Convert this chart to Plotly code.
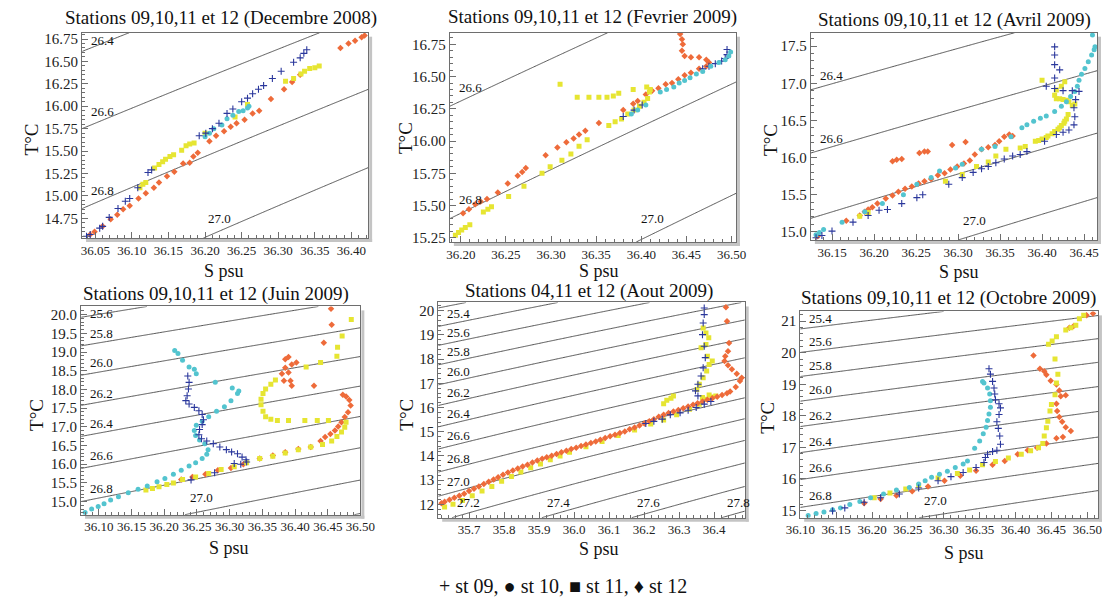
import numpy as np
import plotly.graph_objects as go

W, H = 1115, 602
FONT = "Liberation Serif, Times New Roman, Tinos, DejaVu Serif, serif"

# ---------------- data (S psu, T degC) ----------------
# Panel 1 : Decembre 2008
dec08_st09_S = [36.038,36.043,36.056,36.060,36.069,36.081,36.091,36.097,36.108,36.122,36.127,36.192,36.201,36.210,36.219,36.230,36.238,36.250,36.258,36.265,36.273,36.280,36.292,36.304,36.321,36.330,36.335,36.339]
dec08_st09_T = [14.55,14.57,14.64,14.66,14.76,14.86,14.94,14.97,15.09,15.26,15.29,15.67,15.70,15.75,15.81,15.92,15.97,16.05,16.09,16.14,16.19,16.23,16.31,16.39,16.49,16.54,16.59,16.63]
dec08_st10_S = [36.200,36.206,36.212,36.223,36.230,36.238,36.246,36.252,36.258,36.260]
dec08_st10_T = [15.66,15.70,15.75,15.79,15.86,15.90,15.94,15.95,15.98,16.00]
dec08_st11_S = [36.111,36.115,36.119,36.131,36.137,36.142,36.146,36.152,36.157,36.168,36.174,36.179,36.185,36.200,36.241,36.258,36.310,36.321,36.331,36.336,36.343,36.350,36.356]
dec08_st11_T = [15.09,15.13,15.15,15.31,15.35,15.38,15.41,15.44,15.46,15.51,15.56,15.58,15.59,15.70,15.88,16.02,16.28,16.31,16.36,16.39,16.42,16.43,16.45]
dec08_st12_S = [36.043,36.049,36.060,36.071,36.080,36.088,36.097,36.109,36.119,36.130,36.137,36.148,36.158,36.170,36.179,36.184,36.190,36.206,36.215,36.226,36.235,36.243,36.254,36.265,36.274,36.290,36.308,36.319,36.330,36.385,36.396,36.405,36.414,36.418]
dec08_st12_T = [14.57,14.60,14.66,14.74,14.79,14.85,14.89,14.97,15.03,15.09,15.15,15.22,15.27,15.36,15.37,15.44,15.48,15.61,15.67,15.72,15.77,15.81,15.85,15.92,15.95,16.08,16.19,16.27,16.35,16.65,16.70,16.73,16.77,16.79]

# Panel 2 : Fevrier 2009
feb09_st09_S = [36.380,36.392,36.401,36.468,36.475,36.482,36.489,36.493,36.495,36.495]
feb09_st09_T = [16.19,16.24,16.28,16.56,16.58,16.60,16.62,16.64,16.67,16.71]
feb09_st10_S = [36.389,36.396,36.405,36.421,36.428,36.436,36.442,36.448,36.454,36.461,36.468,36.477,36.486,36.493,36.497,36.499]
feb09_st10_T = [16.21,16.24,16.28,16.38,16.40,16.42,16.45,16.47,16.49,16.52,16.54,16.58,16.61,16.63,16.66,16.69]
feb09_st11_S = [36.194,36.1975,36.201,36.205,36.210,36.225,36.230,36.234,36.253,36.270,36.290,36.299,36.312,36.322,36.331,36.340,36.364,36.371,36.378,36.385,36.392,36.398,36.403,36.407,36.409,36.406,36.310,36.329,36.342,36.353,36.362,36.369,36.375,36.391,36.410]
feb09_st11_T = [15.27,15.29,15.31,15.33,15.35,15.45,15.47,15.49,15.57,15.65,15.75,15.80,15.85,15.90,15.96,16.01,16.12,16.15,16.17,16.21,16.24,16.27,16.30,16.33,16.38,16.42,16.44,16.34,16.34,16.34,16.34,16.35,16.37,16.40,16.40]
feb09_st12_S = [36.2025,36.209,36.216,36.222,36.229,36.241,36.252,36.263,36.268,36.272,36.294,36.307,36.317,36.325,36.331,36.338,36.353,36.380,36.391,36.396,36.405,36.412,36.419,36.427,36.434,36.441,36.448,36.455,36.464,36.472,36.475,36.472,36.464,36.455,36.448,36.445,36.446,36.445,36.443]
feb09_st12_T = [15.44,15.47,15.51,15.53,15.55,15.60,15.67,15.73,15.76,15.79,15.89,15.95,15.99,16.02,16.05,16.08,16.14,16.24,16.29,16.31,16.36,16.39,16.41,16.44,16.45,16.48,16.51,16.53,16.56,16.58,16.61,16.63,16.65,16.65,16.66,16.70,16.75,16.79,16.83]

# Panel 3 : Avril 2009
apr09_st09_S = [36.131,36.138,36.150,36.175,36.193,36.206,36.216,36.233,36.251,36.258,36.289,36.305,36.318,36.328,36.336,36.345,36.355,36.365,36.374,36.382,36.403,36.417,36.425,36.432,36.438,36.439,36.438,36.440,36.444,36.436,36.425,36.415,36.405,36.415,36.421,36.415,36.415,36.415]
apr09_st09_T = [14.92,14.95,15.01,15.13,15.22,15.29,15.30,15.38,15.46,15.50,15.64,15.73,15.80,15.85,15.88,15.93,15.98,16.02,16.04,16.08,16.22,16.31,16.34,16.37,16.44,16.55,16.67,16.78,16.89,16.90,16.90,16.93,16.96,17.07,17.18,17.25,17.38,17.49]
apr09_st10_S = [36.131,36.135,36.140,36.162,36.189,36.235,36.251,36.278,36.305,36.328,36.344,36.363,36.376,36.382,36.390,36.398,36.405,36.415,36.423,36.429,36.434,36.439,36.442,36.444,36.447,36.451,36.455,36.459,36.462,36.463,36.460,36.210,36.268,36.297]
apr09_st10_T = [14.96,14.99,15.03,15.13,15.27,15.50,15.64,15.82,15.91,16.11,16.15,16.28,16.40,16.44,16.49,16.53,16.56,16.62,16.69,16.75,16.82,16.89,16.96,17.04,17.12,17.20,17.29,17.38,17.45,17.49,17.65,15.38,15.73,15.86]
apr09_st11_S = [36.183,36.193,36.285,36.305,36.322,36.336,36.345,36.357,36.374,36.380,36.392,36.400,36.407,36.415,36.421,36.426,36.429,36.431,36.436,36.432,36.425,36.417,36.415,36.417,36.423,36.427,36.400,36.396,36.405,36.412,36.419,36.423,36.427,36.421,36.429,36.439]
apr09_st11_T = [15.21,15.26,15.68,15.77,15.88,15.94,16.02,16.11,16.13,16.15,16.22,16.25,16.29,16.35,16.40,16.46,16.52,16.58,16.70,16.75,16.78,16.79,16.84,16.91,16.96,17.02,17.04,16.23,16.27,16.32,16.38,16.43,16.49,16.79,16.77,16.72]
apr09_st12_S = [36.133,36.167,36.183,36.189,36.193,36.198,36.204,36.214,36.222,36.229,36.237,36.245,36.253,36.260,36.268,36.276,36.284,36.291,36.299,36.307,36.314,36.320,36.328,36.336,36.344,36.349,36.355,36.361,36.365,36.222,36.227,36.233,36.254,36.260,36.264,36.293,36.309]
apr09_st12_T = [14.94,15.15,15.22,15.27,15.30,15.33,15.38,15.45,15.49,15.54,15.58,15.61,15.65,15.68,15.71,15.76,15.79,15.84,15.88,15.92,15.96,16.04,16.11,16.14,16.17,16.22,16.28,16.31,16.29,15.95,15.97,15.98,16.06,16.08,16.08,16.17,16.21]

# Panel 4 : Juin 2009
jun09_st09_S = [36.236,36.238,36.237,36.235,36.233,36.238,36.246,36.253,36.258,36.260,36.258,36.254,36.253,36.257,36.265,36.275,36.285,36.295,36.303,36.312,36.319,36.325,36.326,36.317,36.307,36.277,36.241]
jun09_st09_T = [18.36,18.19,18.01,17.83,17.70,17.61,17.52,17.43,17.33,17.19,17.06,16.93,16.79,16.68,16.62,16.55,16.46,16.39,16.33,16.28,16.19,16.12,16.06,16.00,16.02,15.77,15.58]
jun09_st10_S = [36.079,36.089,36.099,36.108,36.118,36.130,36.145,36.160,36.174,36.189,36.201,36.214,36.226,36.238,36.248,36.258,36.265,36.267,36.262,36.254,36.248,36.246,36.249,36.258,36.268,36.280,36.292,36.302,36.312,36.314,36.304,36.216,36.221,36.228,36.238,36.246,36.249,36.278]
jun09_st10_T = [14.71,14.80,14.87,14.94,15.04,15.13,15.24,15.33,15.42,15.53,15.62,15.73,15.84,15.95,16.04,16.15,16.27,16.39,16.55,16.65,16.77,16.90,17.04,17.15,17.27,17.42,17.54,17.70,17.89,17.96,18.04,19.04,18.96,18.78,18.60,18.54,18.42,18.19]
jun09_st11_S = [36.172,36.182,36.192,36.204,36.214,36.228,36.248,36.268,36.287,36.307,36.326,36.346,36.366,36.385,36.405,36.424,36.442,36.456,36.464,36.471,36.476,36.478,36.451,36.434,36.415,36.390,36.373,36.363,36.355,36.351,36.348,36.348,36.351,36.355,36.363,36.370,36.417,36.439,36.464,36.465,36.472,36.486]
jun09_st11_T = [15.31,15.35,15.40,15.46,15.50,15.59,15.66,15.75,15.86,15.93,16.04,16.15,16.21,16.30,16.39,16.46,16.53,16.62,16.74,16.86,16.99,17.12,17.17,17.17,17.17,17.17,17.17,17.20,17.27,17.42,17.59,17.74,17.89,18.01,18.14,18.25,18.60,18.72,18.89,19.13,19.43,19.87]
jun09_st12_S = [36.226,36.243,36.263,36.282,36.302,36.321,36.346,36.366,36.385,36.405,36.424,36.439,36.446,36.454,36.461,36.466,36.471,36.476,36.481,36.485,36.483,36.478,36.473,36.429,36.390,36.380,36.383,36.393,36.395,36.385,36.395,36.402,36.385,36.390,36.444,36.456,36.455]
jun09_st12_T = [15.59,15.66,15.73,15.84,15.90,16.00,16.15,16.23,16.32,16.41,16.46,16.62,16.73,16.81,16.90,17.01,17.12,17.26,17.39,17.57,17.72,17.81,17.86,18.10,18.45,18.42,18.23,18.23,18.10,18.58,18.67,18.72,18.81,18.87,19.25,19.73,20.16]

# Panel 5 : Aout 2009 (stations 04, 11, 12)
aug09_st04_S = [36.205,36.228,36.252,36.275,36.303,36.326,36.349,36.372,36.391,36.354,36.347,36.354,36.363,36.369,36.375,36.372,36.367,36.369,36.372,36.372]
aug09_st04_T = [15.34,15.43,15.52,15.70,15.78,15.89,16.00,16.14,16.25,16.48,16.69,16.96,17.30,17.64,18.06,18.53,19.01,19.49,19.84,20.11]
aug09_st11_S = [35.630,35.654,35.681,35.709,35.737,35.765,35.793,35.821,35.848,35.876,35.904,35.932,35.960,35.987,36.034,36.080,36.126,36.173,36.219,36.256,36.293,36.330,36.358,36.377,36.395,36.405,36.386,36.367,36.256,36.265,36.277,36.284,36.351,36.358,36.369,36.379,36.386,36.395,36.381,36.363,36.377,36.385,36.377,36.369]
aug09_st11_T = [11.89,12.00,12.16,12.36,12.55,12.74,12.96,13.15,13.34,13.51,13.67,13.84,14.00,14.15,14.38,14.60,14.84,15.07,15.32,15.48,15.70,15.93,16.14,16.34,16.44,16.48,16.52,16.41,16.16,16.30,16.38,16.48,16.75,16.96,17.23,17.51,17.78,17.92,18.12,18.47,18.60,18.88,19.08,19.29]
aug09_st12_S = [35.621,35.644,35.672,35.700,35.728,35.756,35.783,35.811,35.839,35.867,35.895,35.922,35.950,35.978,36.006,36.034,36.062,36.089,36.117,36.145,36.173,36.201,36.228,36.256,36.284,36.312,36.340,36.367,36.395,36.423,36.446,36.462,36.474,36.479,36.465,36.451,36.440,36.430,36.432,36.440,36.443,36.437,36.434,
                35.630,35.658,35.686,35.714,35.742,35.770,35.797,35.825,35.853,35.881,35.909,35.936,35.964,35.992,36.020,36.048,36.075,36.103,36.131,36.159,36.187,36.215,36.242,36.270,36.298,36.326,36.353,36.381,36.409,36.437]
aug09_st12_T = [12.05,12.19,12.36,12.55,12.74,12.93,13.12,13.32,13.48,13.64,13.81,13.95,14.08,14.22,14.34,14.47,14.60,14.74,14.88,15.01,15.18,15.34,15.52,15.70,15.84,15.97,16.11,16.25,16.38,16.52,16.66,16.85,17.10,17.23,17.40,17.58,17.75,17.92,18.12,18.33,18.67,19.56,20.14,
                12.11,12.27,12.44,12.64,12.84,13.03,13.22,13.40,13.56,13.73,13.88,14.01,14.15,14.29,14.41,14.53,14.67,14.81,14.95,15.10,15.26,15.43,15.62,15.77,15.90,16.04,16.18,16.32,16.45,16.59]

# Panel 6 : Octobre 2009
oct09_st09_S = [36.145,36.162,36.189,36.212,36.238,36.265,36.292,36.310,36.327,36.345,36.356,36.358,36.361,36.368,36.374,36.379,36.378,36.376,36.374,36.377,36.379,36.377,36.372,36.371,36.370,36.368,36.365,36.363]
oct09_st09_T = [14.98,15.08,15.26,15.40,15.52,15.71,15.94,16.07,16.20,16.36,16.52,16.68,16.78,16.87,16.91,17.10,17.36,17.60,17.81,18.04,18.25,18.38,18.51,18.69,18.88,19.09,19.32,19.49]
oct09_st10_S = [36.111,36.122,36.133,36.145,36.156,36.169,36.183,36.198,36.216,36.234,36.252,36.265,36.274,36.283,36.294,36.305,36.316,36.327,36.333,36.343,36.350,36.355,36.359,36.361,36.363,36.365,36.365,36.364,36.361,36.356,36.354]
oct09_st10_T = [14.84,14.90,14.95,15.02,15.08,15.19,15.28,15.40,15.52,15.65,15.73,15.84,15.94,16.05,16.15,16.24,16.36,16.47,16.57,16.97,17.20,17.43,17.64,17.85,18.06,18.27,18.48,18.69,18.88,19.04,19.09]
oct09_st11_S = [36.203,36.225,36.247,36.265,36.292,36.319,36.336,36.354,36.372,36.390,36.408,36.421,36.432,36.438,36.440,36.443,36.445,36.448,36.450,36.455,36.457,36.459,36.446,36.451,36.457,36.470,36.477,36.484,36.489,36.495,36.455]
oct09_st11_T = [15.40,15.55,15.68,15.79,16.03,16.17,16.28,16.45,16.55,16.66,16.78,16.89,16.99,17.12,17.36,17.62,17.83,18.15,18.36,18.67,19.04,19.32,20.27,20.37,20.51,20.72,20.79,20.87,21.08,21.19,19.80]
oct09_st12_S = [36.189,36.212,36.234,36.256,36.278,36.301,36.323,36.345,36.368,36.385,36.403,36.417,36.430,36.443,36.457,36.466,36.477,36.470,36.465,36.461,36.458,36.457,36.463,36.470,36.461,36.457,36.449,36.443,36.440,36.434,36.425,36.475,36.481,36.499,36.508]
oct09_st12_T = [15.23,15.36,15.47,15.61,15.76,15.94,16.10,16.26,16.45,16.57,16.78,16.91,16.99,17.12,17.29,17.33,17.52,17.64,17.81,17.96,18.15,18.38,18.62,18.65,18.80,18.99,19.11,19.30,19.41,19.49,19.91,20.79,20.85,21.19,21.24]

# isopycnal (sigma-t) levels and the ones that carry a label
sigma_levels = dict(start=25.0, end=28.0, size=0.2)
dec08_left_labels = [26.4, 26.6, 26.8]; dec08_bottom_labels = [27.0]
feb09_left_labels = [26.6, 26.8];       feb09_bottom_labels = [27.0]
apr09_left_labels = [26.4, 26.6];       apr09_bottom_labels = [27.0]
jun09_left_labels = [25.6, 25.8, 26.0, 26.2, 26.4, 26.6, 26.8]; jun09_bottom_labels = [27.0]
aug09_left_labels = [25.4, 25.6, 25.8, 26.0, 26.2, 26.4, 26.6, 26.8, 27.0]; aug09_bottom_labels = [27.2, 27.4, 27.6, 27.8]
oct09_left_labels = [25.4, 25.6, 25.8, 26.0, 26.2, 26.4, 26.6, 26.8]; oct09_bottom_labels = [27.0]

titles = ["Stations 09,10,11 et 12 (Decembre 2008)", "Stations 09,10,11 et 12 (Fevrier 2009)",
          "Stations 09,10,11 et 12 (Avril 2009)", "Stations 09,10,11 et 12 (Juin 2009)",
          "Stations 04,11 et 12 (Aout 2009)", "Stations 09,10,11 et 12 (Octobre 2009)"]
legend_text = "+ st 09, \u25cf st 10, \u25a0 st 11, \u2666 st 12"


# ---------------- UNESCO 1980 equation of state (p = 0) ----------------
def sigma_t(S, T):
    rw = (999.842594 + 6.793952e-2*T - 9.095290e-3*T**2 + 1.001685e-4*T**3
          - 1.120083e-6*T**4 + 6.536332e-9*T**5)
    A = 0.824493 - 4.0899e-3*T + 7.6438e-5*T**2 - 8.2467e-7*T**3 + 5.3875e-9*T**4
    B = -5.72466e-3 + 1.0227e-4*T - 1.6546e-6*T**2
    return rw + A*S + B*np.power(S, 1.5) + 4.8314e-4*S**2 - 1000.0


def T_on_level(level, S):
    lo, hi = 0.0, 35.0
    for _ in range(60):
        mid = 0.5*(lo+hi)
        if sigma_t(S, mid) > level:
            lo = mid
        else:
            hi = mid
    return 0.5*(lo+hi)


def S_on_level(level, T):
    lo, hi = 30.0, 40.0
    for _ in range(60):
        mid = 0.5*(lo+hi)
        if sigma_t(mid, T) < level:
            lo = mid
        else:
            hi = mid
    return 0.5*(lo+hi)


# ---------------- styles / layout ----------------
C09, C10, C11, C12 = "#2a379c", "#53c4cf", "#e6e532", "#ee6b3a"
STYLE = {
    "st09": dict(symbol="cross-thin", size=5, color=C09, line=dict(color=C09, width=1.1)),
    "st04": dict(symbol="cross-thin", size=5, color=C09, line=dict(color=C09, width=1.1)),
    "st10": dict(symbol="circle", size=5, color=C10, line=dict(width=0)),
    "st11": dict(symbol="square", size=5, color=C11, line=dict(width=0)),
    "st12": dict(symbol="diamond", size=5, color=C12, line=dict(width=0)),
}

panels = [
    dict(px=(69, 363, 32, 239), xr=[36.032, 36.423], yr=[14.53, 16.82], xd=0.05, xm=0.01, xf=".2f",
         yd=0.25, ym=0.05, yf=".2f", tc=(212, 17), ty=(17, 140), tx=(215, 272), bshift=10,
         left=dec08_left_labels, bottom=dec08_bottom_labels,
         series=[("st12", dec08_st12_S, dec08_st12_T), ("st11", dec08_st11_S, dec08_st11_T),
                 ("st10", dec08_st10_S, dec08_st10_T), ("st09", dec08_st09_S, dec08_st09_T)]),
    dict(px=(447, 741, 32, 243), xr=[36.188, 36.505], yr=[15.217, 16.84], xd=0.05, xm=0.01, xf=".2f",
         yd=0.25, ym=0.05, yf=".2f", tc=(593, 16), ty=(402, 138), tx=(600, 272), bshift=14,
         left=feb09_left_labels, bottom=feb09_bottom_labels,
         series=[("st12", feb09_st12_S, feb09_st12_T), ("st11", feb09_st11_S, feb09_st11_T),
                 ("st09", feb09_st09_S, feb09_st09_T), ("st10", feb09_st10_S, feb09_st10_T)]),
    dict(px=(818, 1112, 32, 241), xr=[36.125, 36.4655], yr=[14.89, 17.68], xd=0.05, xm=0.01, xf=".2f",
         yd=0.5, ym=0.1, yf=".1f", tc=(965, 19), ty=(777, 140), tx=(970, 273), bshift=10,
         left=apr09_left_labels, bottom=apr09_bottom_labels,
         series=[("st12", apr09_st12_S, apr09_st12_T), ("st11", apr09_st11_S, apr09_st11_T),
                 ("st10", apr09_st10_S, apr09_st10_T), ("st09", apr09_st09_S, apr09_st09_T)]),
    dict(px=(68, 355, 308, 518), xr=[36.073, 36.50], yr=[14.65, 20.22], xd=0.05, xm=0.01, xf=".2f",
         yd=0.5, ym=0.1, yf=".1f", tc=(207, 295), ty=(22, 417), tx=(220, 552), bshift=8,
         left=jun09_left_labels, bottom=jun09_bottom_labels,
         series=[("st12", jun09_st12_S, jun09_st12_T), ("st11", jun09_st11_S, jun09_st11_T),
                 ("st10", jun09_st10_S, jun09_st10_T), ("st09", jun09_st09_S, jun09_st09_T)]),
    dict(px=(435, 750, 304, 521), xr=[35.612, 36.488], yr=[11.45, 20.34], xd=0.1, xm=0.02, xf=".1f",
         yd=1, ym=0.2, yf="d", tc=(590, 292), ty=(402, 417), tx=(600, 553), bshift=6,
         left=aug09_left_labels, bottom=aug09_bottom_labels,
         series=[("st11", aug09_st11_S, aug09_st11_T), ("st12", aug09_st12_S, aug09_st12_T),
                 ("st04", aug09_st04_S, aug09_st04_T)]),
    dict(px=(807, 1113, 313, 521), xr=[36.10, 36.515], yr=[14.77, 21.31], xd=0.05, xm=0.01, xf=".2f",
         yd=1, ym=0.2, yf="d", tc=(959, 299), ty=(773, 420), tx=(975, 557), bshift=8,
         left=oct09_left_labels, bottom=oct09_bottom_labels,
         series=[("st12", oct09_st12_S, oct09_st12_T), ("st11", oct09_st11_S, oct09_st11_T),
                 ("st10", oct09_st10_S, oct09_st10_T), ("st09", oct09_st09_S, oct09_st09_T)]),
]

fig = go.Figure()
annotations = []
shapes = []
AXC = "#6e6e6e"

for i, p in enumerate(panels, start=1):
    xs = "x" if i == 1 else f"x{i}"
    ys = "y" if i == 1 else f"y{i}"
    l, r, t, b = p["px"]
    xr, yr = p["xr"], p["yr"]

    # isopycnals
    Sg = np.linspace(xr[0], xr[1], 90)
    Tg = np.linspace(yr[0], yr[1], 90)
    Z = sigma_t(Sg[None, :], Tg[:, None])
    fig.add_trace(go.Contour(x=Sg, y=Tg, z=Z, xaxis=xs, yaxis=ys, showscale=False,
                             contours=dict(coloring="none", showlabels=False, **sigma_levels),
                             line=dict(color="#2b2b2b", width=0.8, smoothing=0),
                             hoverinfo="skip", showlegend=False))

    # stations
    for name, S, T in p["series"]:
        st = STYLE[name]
        fig.add_trace(go.Scatter(x=S, y=T, mode="markers", xaxis=xs, yaxis=ys, name=name,
                                 showlegend=False,
                                 marker=dict(symbol=st["symbol"], size=st["size"], color=st["color"],
                                             line=st["line"])))

    dom_x = [l / W, r / W]
    dom_y = [1 - b / H, 1 - t / H]
    common = dict(showline=True, mirror=True, linecolor=AXC, linewidth=1.3, ticks="inside",
                  ticklen=6, tickcolor=AXC, tickwidth=1, showgrid=False, zeroline=False)
    fig.layout[("xaxis" if i == 1 else f"xaxis{i}")] = dict(
        domain=dom_x, range=xr, anchor=ys, dtick=p["xd"], tick0=36.0, tickformat=p["xf"],
        tickangle=0,
        minor=dict(ticks="inside", ticklen=3, dtick=p["xm"], tick0=36.0, tickcolor=AXC),
        tickfont=dict(family=FONT, size=13, color="#222"), **common)
    fig.layout[("yaxis" if i == 1 else f"yaxis{i}")] = dict(
        domain=dom_y, range=yr, anchor=xs, dtick=p["yd"], tick0=0, tickformat=p["yf"],
        minor=dict(ticks="inside", ticklen=3, dtick=p["ym"], tick0=0, tickcolor=AXC),
        tickfont=dict(family=FONT, size=15, color="#222"), **common)

    # drop shadow of the frame
    shapes.append(dict(type="rect", xref="paper", yref="paper", layer="below",
                       x0=(r + 1) / W, x1=(r + 4) / W, y0=1 - (b + 4) / H, y1=1 - (t + 4) / H,
                       fillcolor="#c4c4c4", line=dict(width=0)))
    shapes.append(dict(type="rect", xref="paper", yref="paper", layer="below",
                       x0=(l + 4) / W, x1=(r + 4) / W, y0=1 - (b + 4) / H, y1=1 - (b + 1) / H,
                       fillcolor="#c4c4c4", line=dict(width=0)))

    # titles
    annotations.append(dict(text=titles[i - 1], xref="paper", yref="paper", x=p["tc"][0] / W,
                            y=1 - p["tc"][1] / H, xanchor="center", yanchor="middle", showarrow=False,
                            font=dict(family=FONT, size=19, color="#111")))
    annotations.append(dict(text="T°C", xref="paper", yref="paper", x=p["ty"][0] / W,
                            y=1 - p["ty"][1] / H, xanchor="center", yanchor="middle", showarrow=False,
                            textangle=-90, font=dict(family=FONT, size=19, color="#111")))
    annotations.append(dict(text="S psu", xref="paper", yref="paper", x=p["tx"][0] / W,
                            y=1 - p["tx"][1] / H, xanchor="center", yanchor="middle", showarrow=False,
                            font=dict(family=FONT, size=18, color="#111")))

    # isopycnal labels (kept inside the frame)
    pw, ph = r - l, b - t
    S_lab = xr[0] + (xr[1] - xr[0]) * 22.0 / pw
    T_cap = yr[1] - (yr[1] - yr[0]) * 16.0 / ph
    for lev in p["left"]:
        T_lab = min(T_on_level(lev, S_lab), T_cap)
        annotations.append(dict(text=f"{lev:.1f}", x=xr[0], y=T_lab, xref=xs, yref=ys,
                                xanchor="left", yanchor="bottom", xshift=7, yshift=-1, showarrow=False,
                                font=dict(family=FONT, size=13, color="#111")))
    for lev in p["bottom"]:
        annotations.append(dict(text=f"{lev:.1f}", x=S_on_level(lev, yr[0]), y=yr[0], xref=xs, yref=ys,
                                xanchor="left", yanchor="bottom", xshift=3, yshift=p["bshift"],
                                showarrow=False, font=dict(family=FONT, size=13, color="#111")))

annotations.append(dict(text=legend_text, xref="paper", yref="paper",
                        x=563 / W, y=1 - 590 / H, xanchor="center", yanchor="middle", showarrow=False,
                        font=dict(family=FONT, size=20, color="#111")))

fig.update_layout(width=W, height=H, autosize=False, margin=dict(l=0, r=0, t=0, b=0),
                  paper_bgcolor="white", plot_bgcolor="white", showlegend=False,
                  annotations=annotations, shapes=shapes)

fig.write_html("out.html", config={"displayModeBar": False},
               post_script="document.body.style.margin='0px';document.body.style.overflow='hidden';")
